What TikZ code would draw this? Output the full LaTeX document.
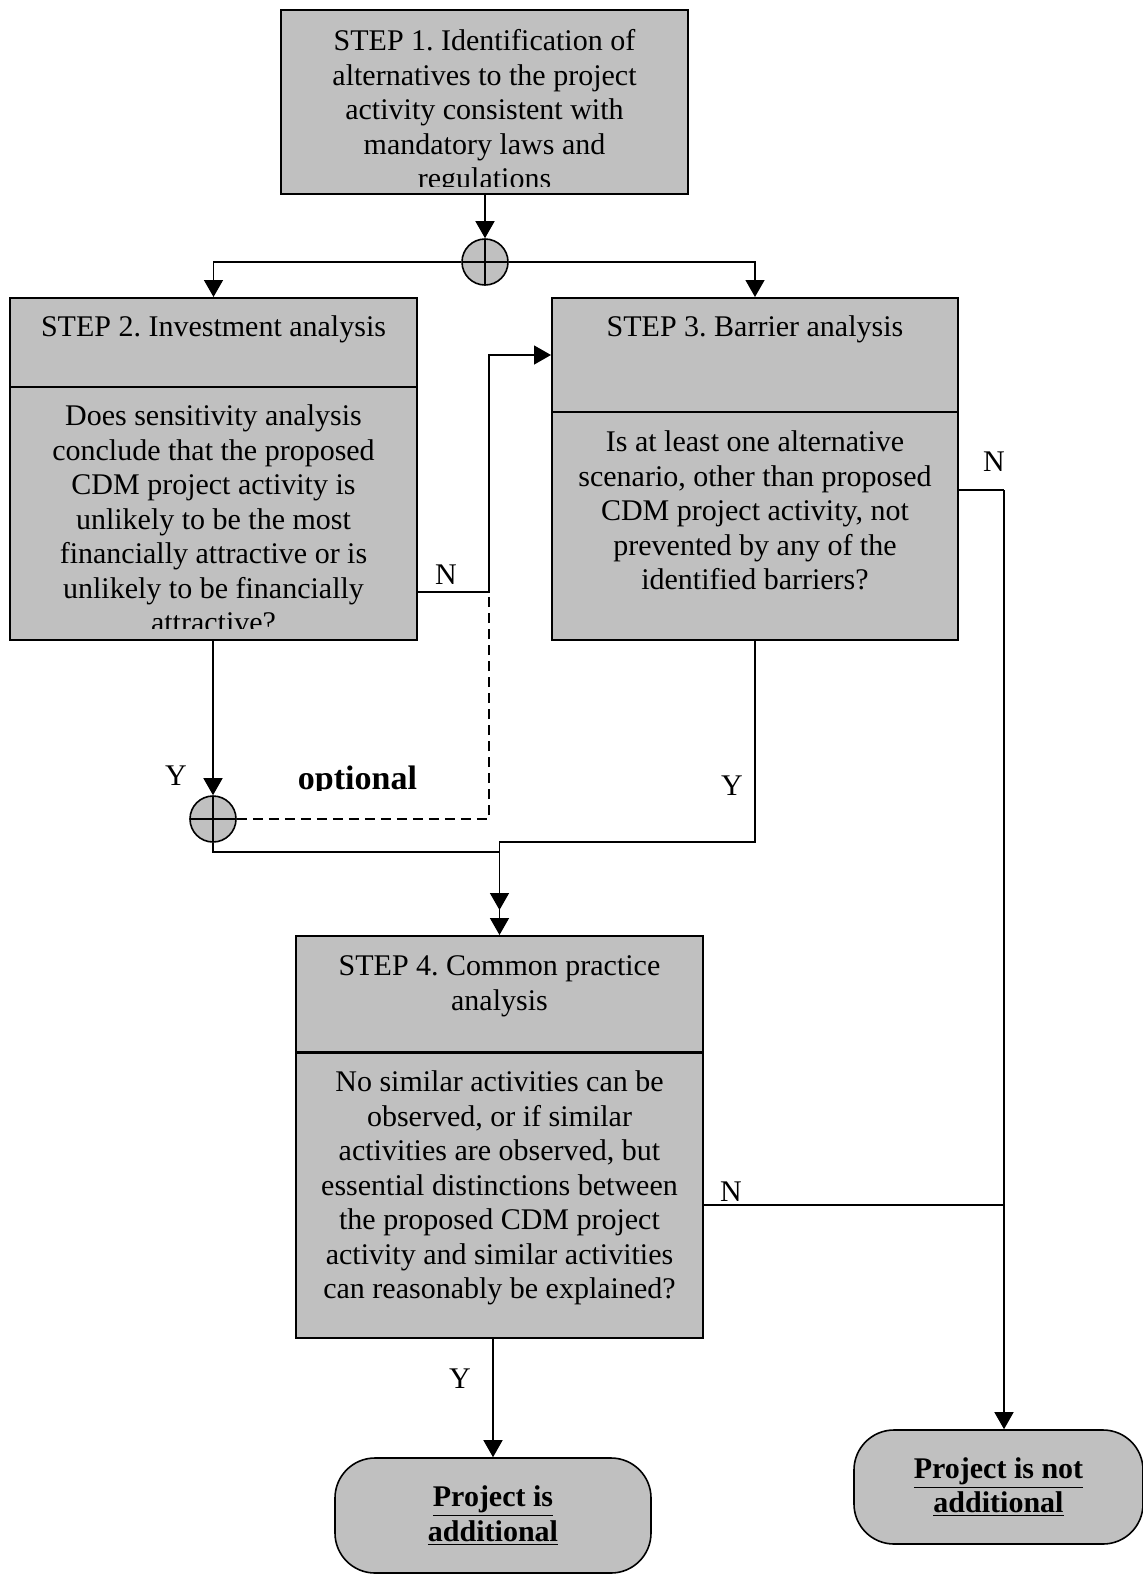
\documentclass[tikz,border=0pt]{standalone}
\usepackage{fontspec}
\setmainfont{Liberation Serif}
\usetikzlibrary{arrows.meta}
\definecolor{boxgray}{RGB}{192,192,192}
\frenchspacing

\tikzset{
  stepbox/.style={draw, line width=1pt, fill=boxgray, inner sep=0pt},
  steptext/.style={anchor=north, align=center, inner sep=0pt, font=\fontsize{15}{17.25}\selectfont},
  plusnode/.style={circle, draw, line width=0.8pt, fill=boxgray, minimum size=23pt, inner sep=0pt,
    path picture={\draw[line width=0.8pt] (path picture bounding box.north) -- (path picture bounding box.south)
      (path picture bounding box.west) -- (path picture bounding box.east);}},
  endbox/.style={draw, line width=0.8pt, fill=boxgray, rounded corners=20pt, align=center, inner sep=0pt,
    font=\fontsize{15}{17.25}\selectfont\bfseries},
  yn/.style={inner sep=0pt, font=\fontsize{15}{17.25}\selectfont},
  link/.style={line width=0.7pt},
  arr/.style={link, -{Triangle[length=8.5pt,width=9.5pt]}}
}

\begin{document}
\begin{tikzpicture}[x=0.5pt, y=-0.5pt]
\useasboundingbox (0,0) rectangle (1143,1575);

% boxes
\node[stepbox, minimum width=203.5pt, minimum height=92pt] (step1) at (484.5,102) {};
\node[stepbox, minimum width=203.5pt, minimum height=171pt] (step2) at (213.5,469) {};
\node[stepbox, minimum width=203pt, minimum height=171pt] (step3) at (755,469) {};
\node[stepbox, minimum width=203.5pt, minimum height=201pt] (step4) at (499.5,1137) {};

% dividers
\draw[line width=1pt] (step2.west |- 0,387) -- (step2.east |- 0,387);
\draw[line width=1pt] (step3.west |- 0,412) -- (step3.east |- 0,412);
\draw[line width=1.5pt] (step4.west |- 0,1052) -- (step4.east |- 0,1052);

% texts
\begin{scope}
  \clip (281,10) rectangle (688,186);
  \node[steptext] (step1 txt) at (484.5,26) {\strut STEP 1. Identification of\\alternatives to the project\\activity consistent with\\mandatory laws and\\regulations};
\end{scope}
\node[steptext] (step2 title) at (213.5,312) {\strut STEP 2. Investment analysis};
\begin{scope}
  \clip (10,298) rectangle (417,628);
  \node[steptext] (step2 txt) at (213.5,401) {\strut Does sensitivity analysis\\conclude that the proposed\\CDM project activity is\\unlikely to be the most\\financially attractive or is\\unlikely to be financially\\attractive?};
\end{scope}
\node[steptext] (step3 title) at (755,312) {\strut STEP 3. Barrier analysis};
\node[steptext] (step3 txt) at (755,427) {\strut Is at least one alternative\\scenario, other than proposed\\CDM project activity, not\\prevented by any of the\\identified barriers?};
\node[steptext] (step4 title) at (499.5,951) {\strut STEP 4. Common practice\\analysis};
\node[steptext] (step4 txt) at (499.5,1067) {\strut No similar activities can be\\observed, or if similar\\activities are observed, but\\essential distinctions between\\the proposed CDM project\\activity and similar activities\\can reasonably be explained?};

% end boxes
\node[endbox, minimum width=158pt, minimum height=57.5pt] (isadd) at (493,1515.5) {\underline{Project is}\\\underline{additional}};
\node[endbox, minimum width=144.5pt, minimum height=57pt] (notadd) at (998.5,1487) {\underline{Project is not}\\\underline{additional}};

% junctions
\node[plusnode] (plus1) at (485,262) {};
\node[plusnode] (plus2) at (213,819) {};

\coordinate (nturn) at (489,355);
\coordinate (rside) at (1004,490);

% connectors
\draw[arr] (step1.south -| plus1) -- (plus1.north);
\draw[arr] (plus1.west) -| (step2.north);
\draw[arr] (plus1.east) -| (step3.north);
\draw[arr] (step2.south -| plus2) -- (plus2.north);
\draw[arr] (step2.east |- 0,592) -| (nturn) -- (nturn -| step3.west);
\draw[link, dashed, dash pattern=on 5pt off 3pt] (plus2.east) -| (nturn);
\draw[arr] (plus2.south) |- (step4.north |- 0,852) -- (step4.north |- 0,910);
\draw[arr] (step3.south) |- (step4.north |- 0,842) -- (step4.north);
\draw[link] (step3.east |- rside) -- (rside);
\draw[arr] (rside) -- (rside |- notadd.north);
\draw[link] (step4.east |- 0,1205) -- (rside |- 0,1205);
\draw[arr] (isadd.north |- step4.south) -- (isadd.north);

% labels
\node[yn] (n step2) at (446,575) {N};
\node[yn] (y step2) at (176,776) {Y};
\node[yn] (y step3) at (732,786) {Y};
\node[yn] (n step3) at (994,462) {N};
\node[yn] (n step4) at (731,1192) {N};
\node[yn] (y step4) at (460,1379) {Y};
\begin{scope}
  \clip (280,740) rectangle (440,790);
  \node[inner sep=0pt, anchor=base, font=\fontsize{17}{20}\selectfont\bfseries] (opt) at (357.5,789) {optional};
\end{scope}

\end{tikzpicture}
\end{document}
